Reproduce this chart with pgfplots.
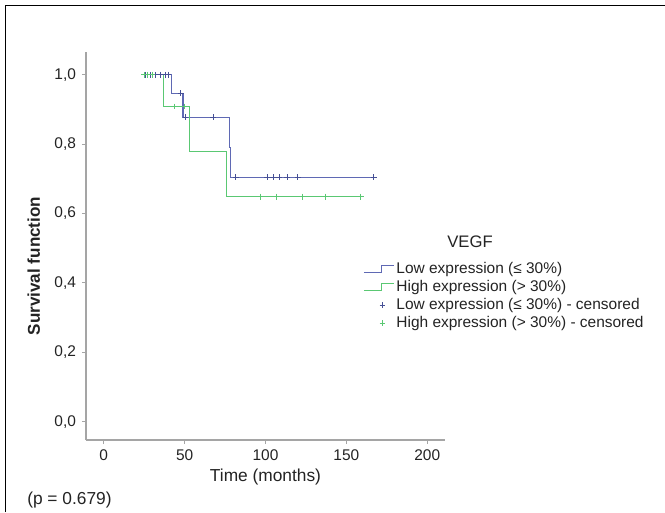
\documentclass[border=0pt]{standalone}
\usepackage{pgfplots}
\pgfplotsset{compat=1.18}
\usepackage{fontspec}
\setmainfont{Liberation Sans}
\definecolor{lowc}{RGB}{95,105,180}
\definecolor{lowm}{RGB}{70,80,150}
\definecolor{highc}{RGB}{90,200,115}
\definecolor{axc}{RGB}{165,165,165}
\definecolor{txt}{RGB}{35,35,35}
\pgfplotsset{
  steplegend/.style={legend image code/.code={\path (0pt,0pt) (22.5pt,0pt);\draw[##1] (0pt,-2.5pt) -- (13.5pt,-2.5pt) -- (13.5pt,2.5pt) -- (22.5pt,2.5pt);}},
  marklegend/.style={legend image code/.code={\path (0pt,0pt) (22.5pt,0pt);\draw[##1] plot coordinates {(14pt,0pt)};}}
}
\begin{document}
\begin{tikzpicture}
\path[use as bounding box] (0,0) rectangle (665*0.75pt,512*0.75pt);
\draw[black,line width=1.4pt] (5.5*0.75pt,0) -- (5.5*0.75pt,506.5*0.75pt) -- (665*0.75pt,506.5*0.75pt);
\begin{axis}[
  at={(86*0.75pt,72*0.75pt)}, anchor=south west,
  scale only axis, width=269.25pt, height=291pt,
  xmin=-11, xmax=211, ymin=-0.053, ymax=1.066,
  axis x line=bottom, axis y line=left,
  axis line style={-, axc, line width=1.3pt},
  tick style={axc, line width=0.8pt},
  tick align=outside, major tick length=3pt,
  xtick={0,50,100,150,200}, xticklabels={0,50,100,150,200},
  ytick={0,0.2,0.4,0.6,0.8,1.0},
  yticklabels={{0,0},{0,2},{0,4},{0,6},{0,8},{1,0}},
  ticklabel style={font=\fontsize{11.6pt}{13pt}\selectfont, text=txt},
  xticklabel style={yshift=-1pt},
  yticklabel style={xshift=-1pt},
  xlabel={Time (months)},
  ylabel={\bfseries Survival function},
  xlabel style={font=\fontsize{13pt}{15pt}\selectfont, text=txt, yshift=1pt},
  ylabel style={font=\fontsize{12.8pt}{14pt}\selectfont, text=txt, yshift=4pt, xshift=-15pt},
  legend cell align=left,
  legend style={at={(axis description cs:0.7716,0.462)}, anchor=north west,
    draw=none, fill=none, inner sep=0pt, row sep=1.5pt,
    font=\fontsize{11.6pt}{13pt}\selectfont, text=txt,
    nodes={inner xsep=1.5pt, inner ysep=0pt, text height=9pt, text depth=3pt}},
]
\addplot[lowc, line width=0.9pt, mark=none, steplegend]
  coordinates {(24,1.0) (42,1.0) (42,0.947) (49,0.947) (49,0.878) (77.6,0.878) (77.6,0.79) (78.6,0.79) (78.6,0.705) (167,0.705)};
\addlegendentry{Low expression (≤ 30\%)}
\addplot[highc, line width=0.9pt, mark=none, steplegend]
  coordinates {(24,1.0) (37,1.0) (37,0.909) (53,0.909) (53,0.779) (76,0.779) (76,0.649) (160,0.649)};
\addlegendentry{High expression (> 30\%)}
\addplot[only marks, mark=+, mark size=2.2pt, lowm, mark options={line width=0.7pt}, marklegend]
  coordinates {(26,1) (29,1) (32,1) (35,1) (38,1) (40,1) (47.5,0.947) (50.5,0.878) (67.6,0.878)
   (81.7,0.705) (101,0.705) (104.8,0.705) (108.4,0.705) (113.4,0.705) (120,0.705) (167,0.705)};
\addlegendentry{Low expression (≤ 30\%) - censored}
\addplot[only marks, mark=+, mark size=2.2pt, highc, mark options={line width=0.7pt}, marklegend]
  coordinates {(25,1) (27,1) (30,1) (44,0.909) (50,0.909)
   (97,0.649) (106.8,0.649) (123,0.649) (136.8,0.649) (159,0.649)};
\addlegendentry{High expression (> 30\%) - censored}
\end{axis}
\node[font=\fontsize{12.5pt}{14pt}\selectfont, text=txt] at (470*0.75pt,270*0.75pt) {VEGF};
\node[font=\fontsize{13pt}{15pt}\selectfont, text=txt, anchor=west, inner sep=0pt] at (27*0.75pt,12*0.75pt) {(p = 0.679)};
\end{tikzpicture}
\end{document}
